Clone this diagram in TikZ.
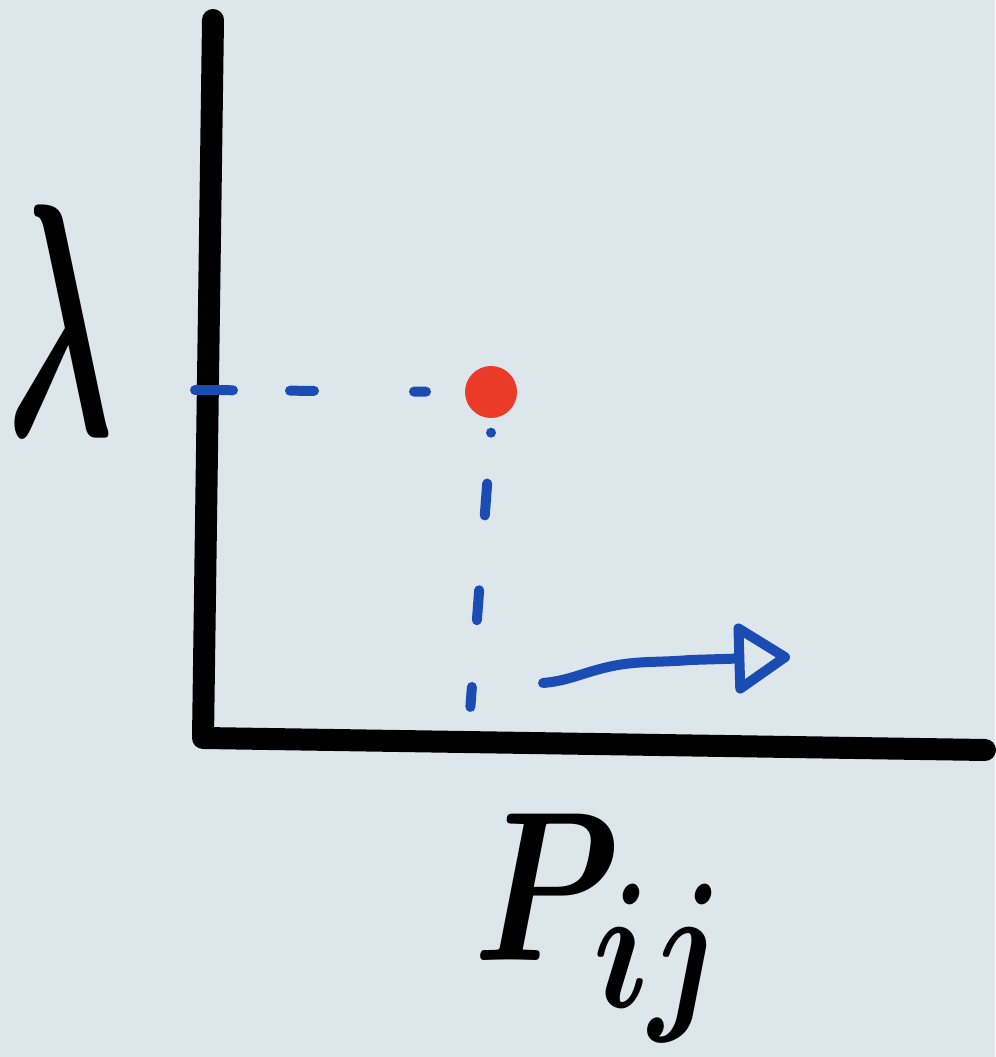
\documentclass[tikz,border=0pt]{standalone}
\usetikzlibrary{arrows.meta}
\definecolor{paper}{RGB}{221,230,235}
\definecolor{pen}{RGB}{26,76,180}
\definecolor{dotred}{RGB}{236,58,40}
\tikzset{
  axis/.style={line width=0.22cm, line cap=round, line join=round},
  guide/.style={pen, line width=0.1cm, line cap=round},
  hand/.style={font=\Huge\boldmath, inner sep=0pt}
}
\begin{document}
\begin{tikzpicture}[>=stealth]
			\fill[paper] (0,0) rectangle (9.95,10.57);
			\useasboundingbox (0,0) rectangle (9.95,10.57);
			% axes
			\coordinate (O) at (2.03,3.19);
			\coordinate (ytop) at (2.13,10.37);
			\coordinate (xend) at (9.85,3.07);
			\draw[axis] (ytop) -- (O) -- (xend);
			\node[hand, xscale=1.8, yscale=3.8] (lam) at (0.60,7.37) {$\lambda$};
			\node[hand, xscale=1.9, yscale=2.44] (pij) at (6.00,1.29) {$P_{ij}$};
			% point and its guides
			\node[circle, fill=dotred, minimum size=0.52cm, inner sep=0pt] (pt) at (4.91,6.65) {};
			\coordinate (ylam) at (1.95,6.67);
			\coordinate (xp) at (4.70,3.45);
			\draw[guide, dash pattern=on 0.38cm off 0.57cm on 0.24cm off 1.0cm on 0.12cm off 1cm] (ylam) -- (pt.west);
			\draw[guide, dash pattern=on 0pt off 0.51cm on 0.32cm off 0.75cm on 0.30cm off 0.67cm on 0.2cm off 1cm] (pt.south) ++(0,-0.14) -- (xp);
			% drift to the right
			\coordinate (as) at (5.43,3.74);
			\coordinate (ae) at (7.90,4.00);
			\draw[guide, line join=round, -{Triangle[open, length=0.6cm, width=0.76cm, round]}]
				(as) to[out=5, in=195] (6.0,3.88) to[out=15, in=185] (6.9,3.97) -- (ae);
		\end{tikzpicture}
\end{document}
